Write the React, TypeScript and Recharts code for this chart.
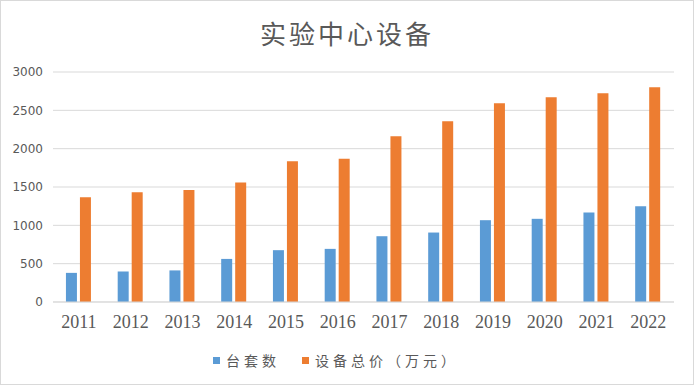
import { BarChart, Bar, XAxis, YAxis, CartesianGrid, Legend } from 'recharts';

const years = ['2011', '2012', '2013', '2014', '2015', '2016', '2017', '2018', '2019', '2020', '2021', '2022'];
const unitCounts = [380, 398, 412, 562, 676, 693, 858, 906, 1067, 1085, 1168, 1250];
const totalValues = [1365, 1430, 1460, 1560, 1835, 1868, 2162, 2358, 2592, 2670, 2724, 2802];
const yTicks = [0, 500, 1000, 1500, 2000, 2500, 3000];

const textColor = '#595959';

const data = years.map((year, i) => ({
  year,
  台套数: unitCounts[i],
  '设备总价（万元）': totalValues[i],
}));

function LegendRow({ payload }: { payload?: any[] }) {
  return (
    <div style={{ display: 'flex', justifyContent: 'center', alignItems: 'center', height: 20 }}>
      {(payload || []).map((entry) => (
        <div key={entry.value} style={{ display: 'flex', alignItems: 'center', marginRight: 22 }}>
          <span style={{ width: 7, height: 7, background: entry.color, marginRight: 6 }} />
          <span
            style={{
              fontFamily: '"Noto Sans CJK SC", sans-serif',
              fontSize: 14,
              letterSpacing: 4,
              color: textColor,
              lineHeight: '20px',
            }}
          >
            {entry.value}
          </span>
        </div>
      ))}
    </div>
  );
}

export default function App() {
  return (
    <div
      style={{
        position: 'fixed',
        left: 0,
        top: 0,
        width: 694,
        height: 385,
        boxSizing: 'border-box',
        border: '1px solid #d9d9d9',
        background: '#fff',
      }}
    >
      <div
        style={{
          position: 'absolute',
          left: 0,
          right: 0,
          top: 13,
          textAlign: 'center',
          fontFamily: '"Noto Sans CJK SC", sans-serif',
          fontSize: 26,
          letterSpacing: 3,
          color: textColor,
          lineHeight: '38px',
        }}
      >
        实验中心设备
      </div>
      <div style={{ position: 'absolute', left: -1, top: -1 }}>
        <BarChart
          width={694}
          height={385}
          data={data}
          margin={{ top: 72, right: 20, left: 0, bottom: 33 }}
          barCategoryGap="25%"
          barGap={3}
        >
          <CartesianGrid vertical={false} stroke="#d9d9d9" />
          <XAxis
            dataKey="year"
            height={30}
            axisLine={{ stroke: '#d9d9d9' }}
            tickLine={false}
            tickMargin={7}
            tick={{ fill: textColor, fontSize: 18, fontFamily: '"Liberation Serif", serif' }}
          />
          <YAxis
            width={53}
            domain={[0, 3000]}
            ticks={yTicks}
            axisLine={false}
            tickLine={false}
            tickMargin={4}
            tick={{ fill: textColor, fontSize: 12, fontFamily: '"DejaVu Sans", sans-serif' }}
          />
          <Legend
            content={<LegendRow />}
            verticalAlign="bottom"
            wrapperStyle={{ top: 350, left: 0, width: 694 }}
          />
          <Bar dataKey="台套数" fill="#5b9bd5" isAnimationActive={false} />
          <Bar dataKey="设备总价（万元）" fill="#ed7d31" isAnimationActive={false} />
        </BarChart>
      </div>
    </div>
  );
}
